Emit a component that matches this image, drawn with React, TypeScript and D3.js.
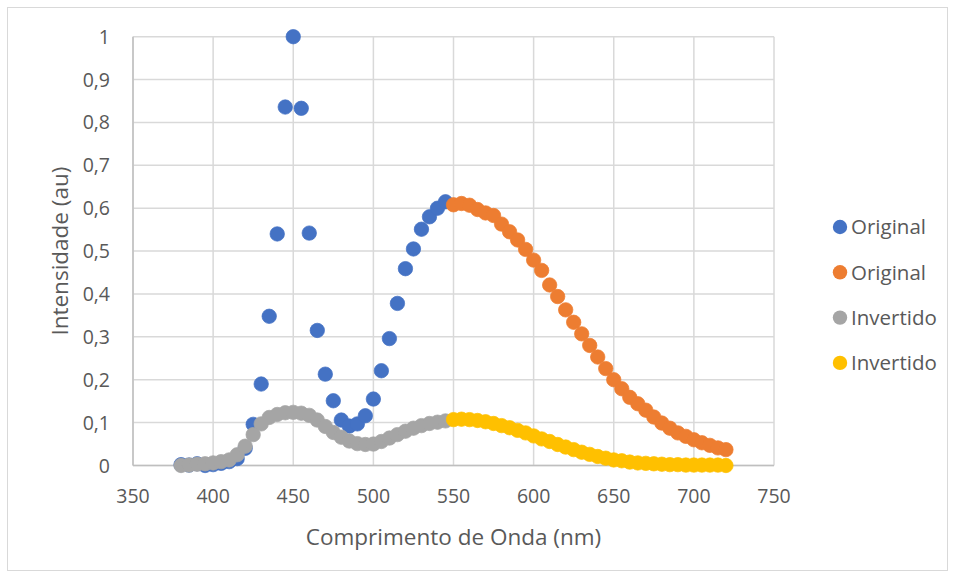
import React from "react";
import * as d3 from "d3";

const W = 955;
const H = 578;

// Wavelengths (nm)
const wlA: number[] = [380,385,390,395,400,405,410,415,420,425,430,435,440,445,450,455,460,465,470,475,480,485,490,495,500,505,510,515,520,525,530,535,540,545];
const wlB: number[] = [550,555,560,565,570,575,580,585,590,595,600,605,610,615,620,625,630,635,640,645,650,655,660,665,670,675,680,685,690,695,700,705,710,715,720];

const originalA: number[] = [0.002,0.001,0.004,0.0,0.002,0.005,0.009,0.016,0.04,0.096,0.19,0.348,0.54,0.836,1.0,0.833,0.542,0.315,0.213,0.151,0.106,0.092,0.097,0.116,0.155,0.221,0.296,0.378,0.459,0.505,0.551,0.58,0.6,0.615];
const originalB: number[] = [0.608,0.611,0.607,0.597,0.589,0.583,0.563,0.545,0.526,0.504,0.479,0.455,0.421,0.394,0.363,0.334,0.307,0.28,0.253,0.226,0.2,0.179,0.159,0.144,0.129,0.113,0.099,0.087,0.076,0.068,0.06,0.053,0.047,0.041,0.037];
const invertidoA: number[] = [0.0,0.001,0.003,0.004,0.006,0.009,0.013,0.025,0.045,0.072,0.097,0.112,0.119,0.123,0.124,0.122,0.117,0.106,0.091,0.077,0.066,0.057,0.051,0.049,0.05,0.056,0.064,0.072,0.08,0.087,0.093,0.098,0.101,0.104];
const invertidoB: number[] = [0.107,0.108,0.107,0.105,0.102,0.098,0.093,0.088,0.082,0.076,0.069,0.062,0.056,0.049,0.043,0.037,0.031,0.026,0.021,0.017,0.013,0.011,0.008,0.006,0.005,0.004,0.003,0.002,0.002,0.001,0.001,0.001,0.001,0.001,0.0];

const xTicks: number[] = [350,400,450,500,550,600,650,700,750];
const yTicks: number[] = [0,0.1,0.2,0.3,0.4,0.5,0.6,0.7,0.8,0.9,1];

const seriesNames: string[] = ["Original","Original","Invertido","Invertido"];
const seriesColors: string[] = ["#4472C4","#ED7D31","#A5A5A5","#FFC000"];

const FONT = "'Open Sans', 'Noto Sans', sans-serif";
const TXT = "#595959";

export default function App() {
  const plot = { left: 133, right: 774, top: 36.7, bottom: 465.5 };
  const x = d3.scaleLinear().domain([350, 750]).range([plot.left, plot.right]);
  const y = d3.scaleLinear().domain([0, 1]).range([plot.bottom, plot.top]);

  const series = [
    { xs: wlA, ys: originalA },
    { xs: wlB, ys: originalB },
    { xs: wlA, ys: invertidoA },
    { xs: wlB, ys: invertidoB },
  ];
  const fmt = (v: number) => (v === 0 ? "0" : v === 1 ? "1" : d3.format(".1f")(v).replace(".", ","));
  const r = 7.2;

  return (
    <svg width={W} height={H} style={{ position: "absolute", left: 0, top: 0, background: "#fff" }}>
      <rect x={7.5} y={7.5} width={940} height={563} fill="#fff" stroke="#D9D9D9" strokeWidth={1} />
      {yTicks.map((t) => (
        <line key={"gy" + t} x1={plot.left} x2={plot.right} y1={y(t)} y2={y(t)} stroke="#D9D9D9" strokeWidth={1.5} />
      ))}
      {xTicks.map((t) => (
        <line key={"gx" + t} x1={x(t)} x2={x(t)} y1={plot.top} y2={plot.bottom} stroke="#D9D9D9" strokeWidth={1.5} />
      ))}
      <line x1={plot.left} x2={plot.left} y1={plot.top} y2={plot.bottom} stroke="#BFBFBF" strokeWidth={1.5} />
      <line x1={plot.left} x2={plot.right} y1={plot.bottom} y2={plot.bottom} stroke="#BFBFBF" strokeWidth={1.5} />
      {yTicks.map((t) => (
        <text key={"ty" + t} x={110} y={y(t)} dy="0.36em" textAnchor="end" fontFamily={FONT} fontSize={19.5} fill={TXT}>
          {fmt(t)}
        </text>
      ))}
      {xTicks.map((t) => (
        <text key={"tx" + t} x={x(t)} y={503} textAnchor="middle" fontFamily={FONT} fontSize={19.5} fill={TXT}>
          {t}
        </text>
      ))}
      <text x={(plot.left + plot.right) / 2} y={545} textAnchor="middle" fontFamily={FONT} fontSize={22.5} fill={TXT}>
        Comprimento de Onda (nm)
      </text>
      <text
        transform={`translate(68, ${(plot.top + plot.bottom) / 2}) rotate(-90)`}
        textAnchor="middle"
        fontFamily={FONT}
        fontSize={22.5}
        fill={TXT}
      >
        Intensidade (au)
      </text>
      {series.map((s, si) => (
        <g key={"s" + si}>
          {s.xs.map((xv, i) => (
            <circle key={i} cx={x(xv)} cy={y(s.ys[i])} r={r} fill={seriesColors[si]} stroke={seriesColors[si]} strokeWidth={0.75} />
          ))}
        </g>
      ))}
      {seriesNames.map((n, i) => (
        <g key={"lg" + i} transform={`translate(840, ${227 + i * 45.3})`}>
          <circle cx={0} cy={0} r={r} fill={seriesColors[i]} />
          <text x={11} y={0} dy="0.36em" fontFamily={FONT} fontSize={20.5} fill={TXT}>
            {n}
          </text>
        </g>
      ))}
    </svg>
  );
}
